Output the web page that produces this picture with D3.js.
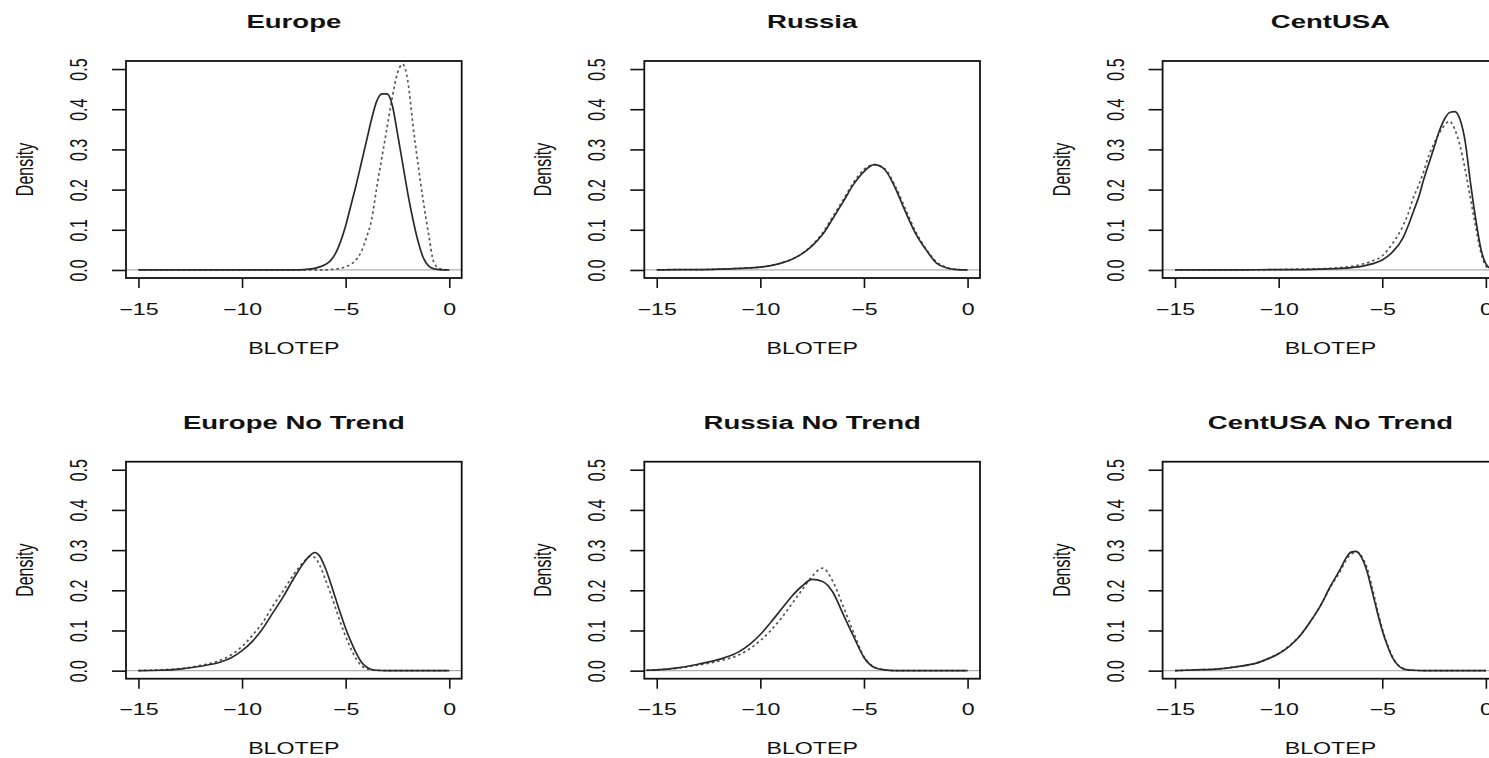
<!DOCTYPE html>
<html>
<head>
<meta charset="utf-8">
<script src="https://cdn.jsdelivr.net/npm/d3@7"></script>
<style>
  body { margin: 0; background: #fff; }
  text { font-family: "Liberation Sans", Arial, sans-serif; fill: #111; }
</style>
</head>
<body>
<script>
// density estimates (x = BLOTEP, y = density)
const europeX      = [-15, -8, -7.5, -7, -6.5, -6, -5.75, -5.5, -5.25, -5, -4.75, -4.5, -4.25, -4, -3.75, -3.5, -3.25, -3, -2.75, -2.5, -2.25, -2, -1.75, -1.5, -1.25, -1, -0.75, -0.5, -0.25, 0];
const europeSolid  = [0, 0, 0, 0.001, 0.004, 0.013, 0.022, 0.04, 0.07, 0.11, 0.16, 0.21, 0.265, 0.32, 0.375, 0.42, 0.438, 0.438, 0.41, 0.34, 0.265, 0.19, 0.125, 0.07, 0.03, 0.01, 0.003, 0.001, 0, 0];
const europeDotted = [0, 0, 0, 0, 0, 0, 0.001, 0.002, 0.004, 0.008, 0.014, 0.025, 0.045, 0.08, 0.125, 0.205, 0.28, 0.355, 0.43, 0.49, 0.512, 0.47, 0.36, 0.26, 0.17, 0.09, 0.02, 0.004, 0.001, 0];

const russiaX      = [-15, -14, -13, -12, -11, -10, -9.5, -9, -8.5, -8, -7.5, -7, -6.5, -6, -5.5, -5, -4.5, -4, -3.5, -3, -2.5, -2, -1.5, -1, -0.5, 0];
const russiaSolid  = [0, 0.001, 0.001, 0.002, 0.004, 0.007, 0.011, 0.017, 0.026, 0.04, 0.06, 0.088, 0.128, 0.17, 0.213, 0.245, 0.262, 0.25, 0.205, 0.145, 0.09, 0.05, 0.017, 0.005, 0.001, 0];
const russiaDotted = [0, 0.001, 0.001, 0.002, 0.004, 0.007, 0.011, 0.017, 0.026, 0.04, 0.062, 0.092, 0.133, 0.175, 0.218, 0.25, 0.262, 0.252, 0.21, 0.152, 0.095, 0.052, 0.02, 0.006, 0.001, 0];

const centX      = [-15, -12, -10, -9, -8, -7, -6.5, -6, -5.5, -5, -4.5, -4, -3.75, -3.5, -3.25, -3, -2.75, -2.5, -2.25, -2, -1.75, -1.5, -1.25, -1, -0.75, -0.5, -0.25, 0, 0.25, 0.5];
const centSolid  = [0, 0, 0.001, 0.001, 0.002, 0.004, 0.006, 0.009, 0.015, 0.025, 0.045, 0.08, 0.11, 0.145, 0.18, 0.225, 0.265, 0.305, 0.345, 0.375, 0.392, 0.394, 0.375, 0.32, 0.22, 0.13, 0.055, 0.015, 0.003, 0];
const centDotted = [0, 0, 0.001, 0.002, 0.003, 0.006, 0.009, 0.014, 0.022, 0.035, 0.066, 0.11, 0.14, 0.18, 0.21, 0.245, 0.285, 0.315, 0.34, 0.36, 0.37, 0.35, 0.31, 0.25, 0.18, 0.11, 0.045, 0.01, 0.002, 0];

const europeNtX      = [-15, -14, -13, -12, -11, -10.5, -10, -9.5, -9, -8.5, -8, -7.5, -7, -6.75, -6.5, -6.25, -6, -5.75, -5.5, -5.25, -5, -4.75, -4.5, -4.25, -4, -3.75, -3.5, -3, 0];
const europeNtSolid  = [0, 0.001, 0.004, 0.011, 0.022, 0.033, 0.05, 0.073, 0.105, 0.145, 0.185, 0.23, 0.27, 0.285, 0.294, 0.285, 0.258, 0.222, 0.182, 0.142, 0.105, 0.073, 0.045, 0.022, 0.009, 0.003, 0.001, 0, 0];
const europeNtDotted = [0, 0.002, 0.005, 0.013, 0.027, 0.04, 0.06, 0.088, 0.12, 0.162, 0.2, 0.24, 0.272, 0.284, 0.282, 0.262, 0.23, 0.195, 0.158, 0.12, 0.085, 0.055, 0.03, 0.013, 0.005, 0.002, 0.001, 0, 0];

const russiaNtX      = [-15.5, -15, -14, -13, -12, -11, -10.5, -10, -9.5, -9, -8.5, -8, -7.5, -7, -6.5, -6, -5.5, -5, -4.5, -4, -3.5, 0];
const russiaNtSolid  = [0.001, 0.002, 0.007, 0.016, 0.028, 0.048, 0.066, 0.09, 0.12, 0.152, 0.184, 0.21, 0.227, 0.222, 0.195, 0.14, 0.085, 0.033, 0.008, 0.002, 0, 0];
const russiaNtDotted = [0.001, 0.002, 0.006, 0.014, 0.024, 0.04, 0.055, 0.075, 0.1, 0.13, 0.165, 0.2, 0.235, 0.255, 0.222, 0.16, 0.095, 0.035, 0.009, 0.002, 0, 0];

const centNtX      = [-15, -14, -13, -12, -11, -10.5, -10, -9.5, -9, -8.5, -8, -7.5, -7, -6.75, -6.5, -6.25, -6, -5.75, -5.5, -5.25, -5, -4.75, -4.5, -4.25, -4, -3.75, -3.5, -3, 0];
const centNtSolid  = [0, 0.002, 0.004, 0.01, 0.02, 0.03, 0.042, 0.06, 0.085, 0.12, 0.16, 0.21, 0.255, 0.28, 0.295, 0.297, 0.282, 0.25, 0.2, 0.148, 0.1, 0.062, 0.032, 0.014, 0.005, 0.002, 0.001, 0, 0];
const centNtDotted = [0, 0.002, 0.004, 0.01, 0.02, 0.03, 0.043, 0.061, 0.086, 0.12, 0.16, 0.208, 0.25, 0.275, 0.29, 0.295, 0.285, 0.258, 0.21, 0.155, 0.105, 0.065, 0.034, 0.015, 0.006, 0.002, 0.001, 0, 0];

const titles = ["Europe", "Russia", "CentUSA", "Europe No Trend", "Russia No Trend", "CentUSA No Trend"];
const xTicks = [-15, -10, -5, 0];
const yTicks = [0, 0.1, 0.2, 0.3, 0.4, 0.5];

const panels = [
  {x: europeX, a: europeSolid, b: europeDotted},
  {x: russiaX, a: russiaSolid, b: russiaDotted},
  {x: centX, a: centSolid, b: centDotted},
  {x: europeNtX, a: europeNtSolid, b: europeNtDotted},
  {x: russiaNtX, a: russiaNtSolid, b: russiaNtDotted},
  {x: centNtX, a: centNtSolid, b: centNtDotted}
];

// the picture is stretched sideways, so text gets the same stretch
const stretch = 1.45;
const boxW = 335.7, boxH = 217, colStep = 518.3;
const rowTop = [61, 461.7];

const svg = d3.select("body")
  .append("svg")
    .attr("width", 1489)
    .attr("height", 758);

panels.forEach(function(p, i) {
  const col = i % 3, row = Math.floor(i / 3);
  const left = 126 + col * colStep, top = rowTop[row];

  const x = d3.scaleLinear().domain([-15.6, 0.6]).range([left, left + boxW]);
  const y = d3.scaleLinear().domain([-0.02, 0.52]).range([top + boxH, top]);

  const g = svg.append("g");

  // zero line
  g.append("line")
    .attr("x1", left).attr("x2", left + boxW)
    .attr("y1", y(0)).attr("y2", y(0))
    .attr("stroke", "#b0b0b0").attr("stroke-width", 1.2);

  const line = d3.line()
    .x(d => x(d[0]))
    .y(d => y(d[1]))
    .curve(d3.curveMonotoneX);

  g.append("path")
    .datum(p.x.map((v, k) => [v, p.b[k]]))
    .attr("d", line)
    .attr("fill", "none")
    .attr("stroke", "#555")
    .attr("stroke-width", 1.7)
    .attr("stroke-dasharray", "2.5,3");

  g.append("path")
    .datum(p.x.map((v, k) => [v, p.a[k]]))
    .attr("d", line)
    .attr("fill", "none")
    .attr("stroke", "#2a2a2a")
    .attr("stroke-width", 1.7);

  // box
  g.append("rect")
    .attr("x", left).attr("y", top)
    .attr("width", boxW).attr("height", boxH)
    .attr("fill", "none")
    .attr("stroke", "#111").attr("stroke-width", 1.8);

  // x axis
  const xa = g.append("g")
    .attr("transform", `translate(0, ${top + boxH})`)
    .call(d3.axisBottom(x).tickValues(xTicks).tickSize(10).tickSizeOuter(0));
  xa.select(".domain").remove();
  xa.selectAll(".tick line").attr("stroke", "#111").attr("stroke-width", 1.6);
  xa.selectAll(".tick text")
    .attr("y", null).attr("dy", null)
    .attr("dominant-baseline", "central")
    .attr("transform", `translate(0, 31) scale(${stretch}, 1)`)
    .style("font-size", "16px").style("font-family", "Liberation Sans, Arial, sans-serif")
    .attr("fill", "#111");

  // y axis
  const ya = g.append("g")
    .attr("transform", `translate(${left}, 0)`)
    .call(d3.axisLeft(y).tickValues(yTicks).tickFormat(d3.format(".1f")).tickSize(14).tickSizeOuter(0));
  ya.select(".domain").remove();
  ya.selectAll(".tick line").attr("stroke", "#111").attr("stroke-width", 1.6);
  ya.selectAll(".tick text")
    .attr("x", null).attr("dy", null)
    .attr("text-anchor", "middle")
    .attr("dominant-baseline", "central")
    .attr("transform", `translate(-47, 0) scale(${stretch}, 1) rotate(-90)`)
    .style("font-size", "16px").style("font-family", "Liberation Sans, Arial, sans-serif")
    .attr("fill", "#111");

  const cx = left + boxW / 2;

  g.append("text")
    .attr("text-anchor", "middle").attr("dominant-baseline", "central")
    .attr("transform", `translate(${cx}, ${top - 39.5}) scale(${stretch}, 1)`)
    .style("font-size", "19px").style("font-weight", "bold")
    .text(titles[i]);

  g.append("text")
    .attr("text-anchor", "middle").attr("dominant-baseline", "central")
    .attr("transform", `translate(${cx}, ${top + boxH + 70}) scale(${stretch}, 1)`)
    .style("font-size", "16px")
    .text("BLOTEP");

  g.append("text")
    .attr("text-anchor", "middle").attr("dominant-baseline", "central")
    .attr("transform", `translate(${left - 101}, ${top + boxH / 2}) scale(${stretch}, 1) rotate(-90)`)
    .style("font-size", "16px")
    .text("Density");
});
</script>
</body>
</html>
